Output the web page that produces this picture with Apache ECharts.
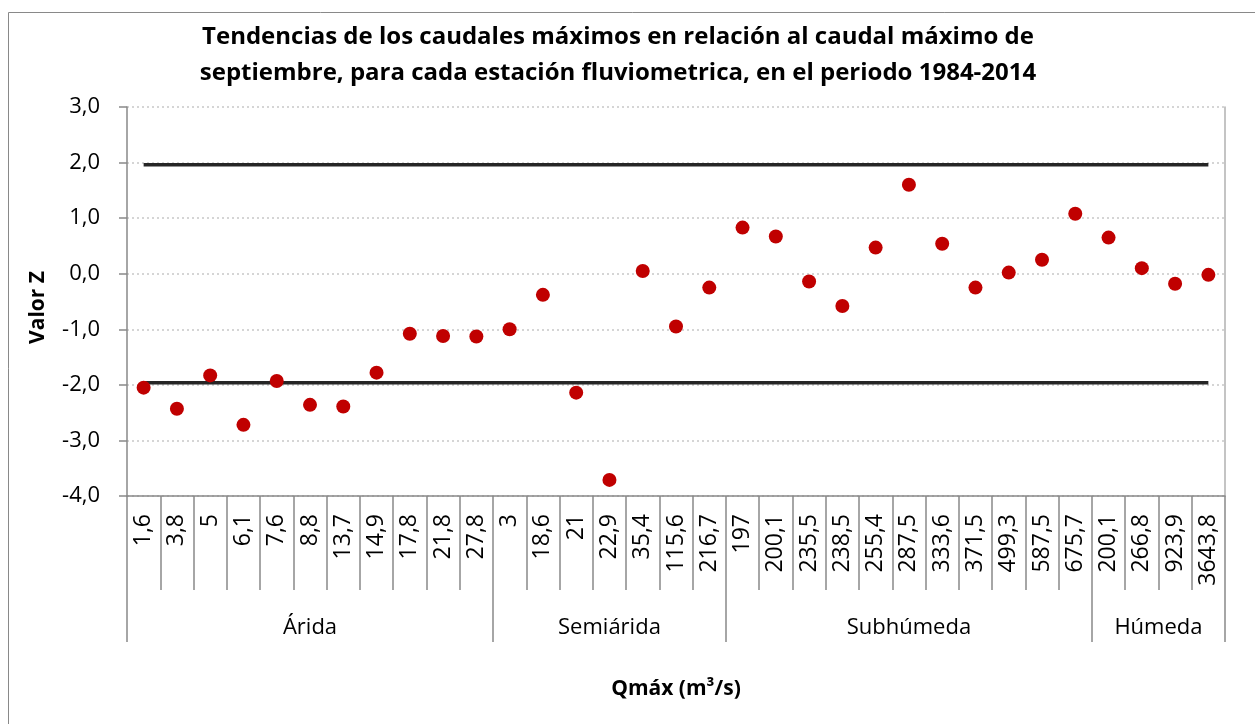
<!DOCTYPE html>
<html>
<head>
<meta charset="utf-8">
<script src="https://cdn.jsdelivr.net/npm/echarts@6/dist/echarts.min.js"></script>
<style>
  html, body { margin: 0; padding: 0; background: #fff; }
  #main { width: 1255px; height: 724px; }
</style>
</head>
<body>
<div id="main"></div>
<script>
// categorias (Qmax) y valores Z
var categories = ['1,6', '3,8', '5', '6,1', '7,6', '8,8', '13,7', '14,9', '17,8', '21,8', '27,8',
  '3', '18,6', '21', '22,9', '35,4', '115,6', '216,7',
  '197', '200,1', '235,5', '238,5', '255,4', '287,5', '333,6', '371,5', '499,3', '587,5', '675,7',
  '200,1', '266,8', '923,9', '3643,8'];
var valoresZ = [-2.05, -2.43, -1.83, -2.72, -1.93, -2.36, -2.39, -1.78, -1.08, -1.12, -1.13,
  -1.0, -0.38, -2.14, -3.71, 0.05, -0.95, -0.25,
  0.83, 0.67, -0.14, -0.58, 0.47, 1.6, 0.54, -0.25, 0.02, 0.25, 1.08,
  0.65, 0.1, -0.18, -0.02];
var grupos = ['Árida', 'Semiárida', 'Subhúmeda', 'Húmeda'];
var tamGrupos = [11, 7, 11, 4];
var limite = 1.96;
var yTicks = [-4, -3, -2, -1, 0, 1, 2, 3];

var myChart = echarts.init(document.getElementById('main'));

// eje de grupos: medias celdas, etiqueta en el centro de cada grupo
var ejeGrupos = [], bordes = [0], centros = {};
var acc = 0;
tamGrupos.forEach(function (n, i) {
    centros[(acc + n / 2) * 2] = grupos[i];
    acc += n;
    bordes.push(acc * 2);
});
for (var k = 0; k <= acc * 2; k++) {
    ejeGrupos.push(centros[k] || '');
}

var limSup = categories.map(function () { return limite; });
var limInf = categories.map(function () { return -limite; });

var font = 'Open Sans';
var gris = '#898989';

var option = {
    animation: false,
    title: {
        text: 'Tendencias de los caudales máximos en relación al caudal máximo de\nseptiembre, para cada estación fluviometrica, en el periodo 1984-2014',
        left: 613,
        top: 14,
        textAlign: 'center',
        textStyle: {
            fontFamily: font,
            fontWeight: 'bold',
            fontSize: 24,
            lineHeight: 36,
            color: '#000'
        }
    },
    graphic: [{
        type: 'rect',
        shape: { x: 8.5, y: 12.5, width: 1400, height: 900 },
        style: { fill: 'none', stroke: gris, lineWidth: 1 },
        silent: true
    }],
    grid: {
        left: 127,
        right: 30,
        top: 107,
        bottom: 228
    },
    xAxis: [
        {
            type: 'category',
            data: categories,
            boundaryGap: true,
            axisLine: { onZero: false, lineStyle: { color: gris, width: 1.5 } },
            axisTick: { show: true, interval: 0, length: 94, lineStyle: { color: gris, width: 1.5 } },
            axisLabel: {
                interval: 0,
                rotate: 90,
                margin: 18,
                fontFamily: font,
                fontSize: 23,
                color: '#000'
            },
            splitLine: { show: false }
        },
        {
            type: 'category',
            position: 'bottom',
            data: ejeGrupos,
            boundaryGap: false,
            axisLine: { show: false, onZero: false },
            axisTick: {
                show: true,
                length: 146,
                interval: function (index) { return bordes.indexOf(index) >= 0; },
                lineStyle: { color: gris, width: 1.5 }
            },
            axisLabel: {
                interval: function (index, value) { return value !== ''; },
                margin: 121,
                fontFamily: font,
                fontSize: 22,
                color: '#000'
            },
            name: 'Qmáx (m³/s)',
            nameLocation: 'middle',
            nameGap: 183,
            nameTextStyle: {
                fontFamily: font,
                fontWeight: 'bold',
                fontSize: 21,
                color: '#000'
            },
            splitLine: { show: false }
        }
    ],
    yAxis: [
        {
            type: 'value',
            min: yTicks[0],
            max: yTicks[yTicks.length - 1],
            interval: 1,
            name: 'Valor Z',
            nameLocation: 'middle',
            nameGap: 78,
            nameTextStyle: {
                fontFamily: font,
                fontWeight: 'bold',
                fontSize: 21,
                color: '#000',
                padding: [0, 0, 0, -12]
            },
            axisLine: { show: true, lineStyle: { color: gris, width: 1.5 } },
            axisTick: { show: true, length: 8, lineStyle: { color: gris, width: 1.5 } },
            axisLabel: {
                margin: 27,
                fontFamily: font,
                fontSize: 22,
                color: '#000',
                formatter: function (v) { return v.toFixed(1).replace('.', ','); }
            },
            splitLine: { show: true, lineStyle: { color: '#c8c8c8', type: [2, 3], width: 1.5 } }
        },
        {
            type: 'value',
            position: 'right',
            min: yTicks[0],
            max: yTicks[yTicks.length - 1],
            interval: 1,
            axisLine: { show: true, onZero: false, lineStyle: { color: '#b0b0b0', width: 1.5 } },
            axisTick: { show: false },
            axisLabel: { show: false },
            splitLine: { show: false }
        }
    ],
    series: [
        {
            name: 'Límite superior',
            type: 'line',
            data: limSup,
            symbol: 'none',
            lineStyle: { color: '#262626', width: 3.5 },
            z: 2
        },
        {
            name: 'Límite inferior',
            type: 'line',
            data: limInf,
            symbol: 'none',
            lineStyle: { color: '#262626', width: 3.5 },
            z: 2
        },
        {
            name: 'Valor Z',
            type: 'scatter',
            data: valoresZ,
            symbol: 'circle',
            symbolSize: 14,
            itemStyle: { color: '#c00000', opacity: 1 },
            z: 3
        }
    ]
};

myChart.setOption(option);
</script>
</body>
</html>
